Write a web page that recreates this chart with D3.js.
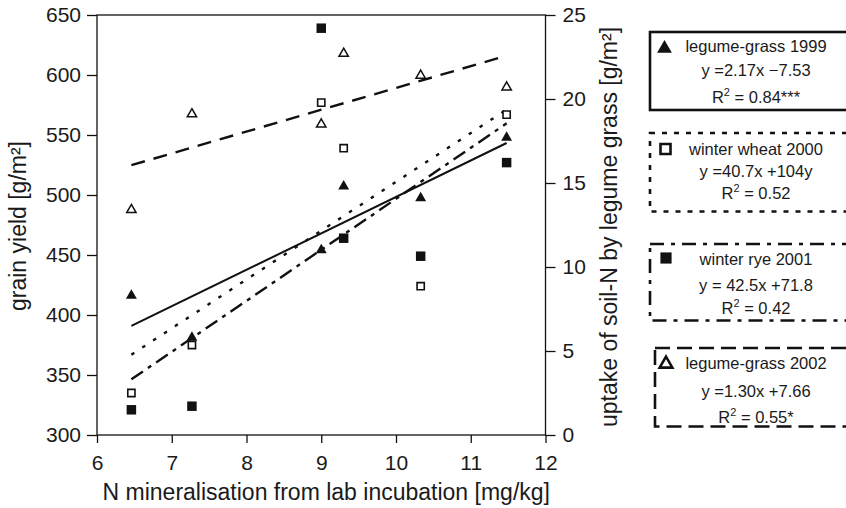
<!DOCTYPE html>
<html>
<head>
<meta charset="utf-8">
<script src="https://cdn.jsdelivr.net/npm/d3@7"></script>
<style>
  body { margin: 0; background: #fff; }
  text { font-family: "Liberation Sans", Arial, Helvetica, sans-serif; fill: #1a1a1a; }
</style>
</head>
<body>
<div id="chart"></div>
<script>
// N mineralisation values (x) of the six sites
const nMin = [6.46, 7.27, 9.0, 9.3, 10.33, 11.48];

const legume1999 = [8.3, 5.8, 11.0, 14.8, 14.1, 17.7];   // uptake, right axis
const wheat2000  = [335, 375, 577, 539, 424, 567];        // grain yield, left axis
const rye2001    = [321, 324, 639, 464, 449, 527];        // grain yield, left axis
const legume2002 = [13.4, 19.1, 18.5, 22.7, 21.4, 20.7];  // uptake, right axis

// regression lines, values at the first and last site
const fitX          = [6.46, 11.48];
const fitLegume1999 = [6.49, 17.38];
const fitWheat2000  = [366.9, 571.2];
const fitRye2001    = [346.4, 559.7];
const fitLegume2002 = [16.06, 22.58];

// ticks
const xTicks      = [6, 7, 8, 9, 10, 11, 12];
const yLeftTicks  = [300, 350, 400, 450, 500, 550, 600, 650];
const yRightTicks = [0, 5, 10, 15, 20, 25];

// legend texts
const legendTitles    = ["legume-grass 1999", "winter wheat 2000", "winter rye 2001", "legume-grass 2002"];
const legendEquations = ["y =2.17x \u22127.53", "y =40.7x +104y", "y = 42.5x +71.8", "y =1.30x +7.66"];
const legendR2        = ["0.84***", "0.52", "0.42", "0.55*"];

const W = 846, H = 508;
const margin = {top: 15, left: 97, right: 300.5, bottom: 73};
const ink = "#111";

const svg = d3.select("#chart")
  .append("svg")
  .attr("width", W)
  .attr("height", H);

const x = d3.scaleLinear().domain([6, 12]).range([margin.left, W - margin.right]);
const yL = d3.scaleLinear().domain([300, 650]).range([H - margin.bottom, margin.top]);
const yR = d3.scaleLinear().domain([0, 25]).range([H - margin.bottom, margin.top]);

const fontAxis = 21, fontTitle = 23, fontLegend = 16.5;

function styleAxis(g) {
  g.select(".domain").remove();
  g.attr("font-size", fontAxis).attr("font-family", null);
  g.selectAll(".tick line").attr("stroke", ink).attr("stroke-width", 1.3);
}

// axes
svg.append("g")
  .attr("transform", `translate(0,${H - margin.bottom})`)
  .call(d3.axisBottom(x).tickValues(xTicks).tickFormat(d3.format("d"))
    .tickSize(8).tickPadding(12).tickSizeOuter(0))
  .call(styleAxis);

svg.append("g")
  .attr("transform", `translate(${margin.left},0)`)
  .call(d3.axisLeft(yL).tickValues(yLeftTicks).tickSize(10).tickPadding(6).tickSizeOuter(0))
  .call(styleAxis);

svg.append("g")
  .attr("transform", `translate(${W - margin.right},0)`)
  .call(d3.axisRight(yR).tickValues(yRightTicks).tickSize(10).tickPadding(7).tickSizeOuter(0))
  .call(styleAxis);

// frame
svg.append("rect")
  .attr("x", margin.left)
  .attr("y", margin.top)
  .attr("width", W - margin.right - margin.left)
  .attr("height", H - margin.bottom - margin.top)
  .attr("fill", "none")
  .attr("stroke", ink)
  .attr("stroke-width", 1.3);

// axis titles
svg.append("text")
  .attr("x", (margin.left + W - margin.right) / 2 + 5)
  .attr("y", 500)
  .attr("text-anchor", "middle")
  .attr("font-size", fontTitle)
  .text("N mineralisation from lab incubation [mg/kg]");

svg.append("text")
  .attr("transform", "translate(26,226) rotate(-90)")
  .attr("text-anchor", "middle")
  .attr("font-size", fontTitle)
  .text("grain yield [g/m\u00b2]");

svg.append("text")
  .attr("transform", "translate(617,227) rotate(-90)")
  .attr("text-anchor", "middle")
  .attr("font-size", fontTitle)
  .text("uptake of soil-N by legume grass [g/m\u00b2]");

// series
const series = [
  {pts: legume1999, fit: fitLegume1999, y: yR, dash: null, sym: d3.symbolTriangle, size: 52, fill: ink, sw: 0},
  {pts: wheat2000, fit: fitWheat2000, y: yL, dash: "3.5,9.5", sym: d3.symbolSquare, size: 52, fill: "#fff", sw: 1.6},
  {pts: rye2001, fit: fitRye2001, y: yL, dash: "14,6,4,6", sym: d3.symbolSquare, size: 90, fill: ink, sw: 0},
  {pts: legume2002, fit: fitLegume2002, y: yR, dash: "14,9", sym: d3.symbolTriangle, size: 38, fill: "#fff", sw: 1.5}
];

const line = d3.line();

series.forEach(s => {
  svg.append("path")
    .attr("d", line(d3.zip(fitX, s.fit).map(d => [x(d[0]), s.y(d[1])])))
    .attr("fill", "none")
    .attr("stroke", ink)
    .attr("stroke-width", s.dash ? 2.4 : 2)
    .attr("stroke-dasharray", s.dash);
});

series.forEach(s => {
  svg.append("g").selectAll("path")
    .data(d3.zip(nMin, s.pts))
    .enter()
    .append("path")
    .attr("transform", d => `translate(${x(d[0])},${s.y(d[1])})`)
    .attr("d", d3.symbol().type(s.sym).size(s.size))
    .attr("fill", s.fill)
    .attr("stroke", s.sw ? ink : "none")
    .attr("stroke-width", s.sw);
});

// legend boxes
const boxes = [
  {x: 650, y: 32,  h: 78, dash: null,          base: [52, 76, 103],  mark: [664.5, 48.5], sym: d3.symbolTriangle, size: 95, fill: ink, sw: 0},
  {x: 650, y: 133, h: 78.5, dash: "5,7",       base: [155, 177, 199], mark: [665.5, 149],  sym: d3.symbolSquare, size: 100, fill: "#fff", sw: 2.6},
  {x: 650, y: 244, h: 76.5, dash: "14,7,4,7",  base: [265, 291, 314],   mark: [666, 258],    sym: d3.symbolSquare, size: 125, fill: ink, sw: 0},
  {x: 655, y: 348, h: 78.5, dash: "15,7",      base: [369, 397, 422.5], mark: [666, 364],  sym: d3.symbolTriangle, size: 70, fill: "#fff", sw: 2.6}
];
const legendCenter = 756;

boxes.forEach((b, i) => {
  const g = svg.append("g");
  g.append("rect")
    .attr("x", b.x).attr("y", b.y)
    .attr("width", 860 - b.x).attr("height", b.h)
    .attr("fill", "none")
    .attr("stroke", ink)
    .attr("stroke-width", 2.6)
    .attr("stroke-dasharray", b.dash);

  g.append("path")
    .attr("transform", `translate(${b.mark[0]},${b.mark[1]})`)
    .attr("d", d3.symbol().type(b.sym).size(b.size))
    .attr("fill", b.fill)
    .attr("stroke", b.sw ? ink : "none")
    .attr("stroke-width", b.sw);

  g.append("text")
    .attr("x", legendCenter).attr("y", b.base[0])
    .attr("text-anchor", "middle").attr("font-size", fontLegend)
    .text(legendTitles[i]);

  g.append("text")
    .attr("x", legendCenter).attr("y", b.base[1])
    .attr("text-anchor", "middle").attr("font-size", fontLegend)
    .text(legendEquations[i]);

  const r2 = g.append("text")
    .attr("x", legendCenter).attr("y", b.base[2])
    .attr("text-anchor", "middle").attr("font-size", fontLegend);
  r2.append("tspan").text("R");
  r2.append("tspan").attr("font-size", 11).attr("dy", -7).text("2");
  r2.append("tspan").attr("dy", 7).text(" = " + legendR2[i]);
});
</script>
</body>
</html>
